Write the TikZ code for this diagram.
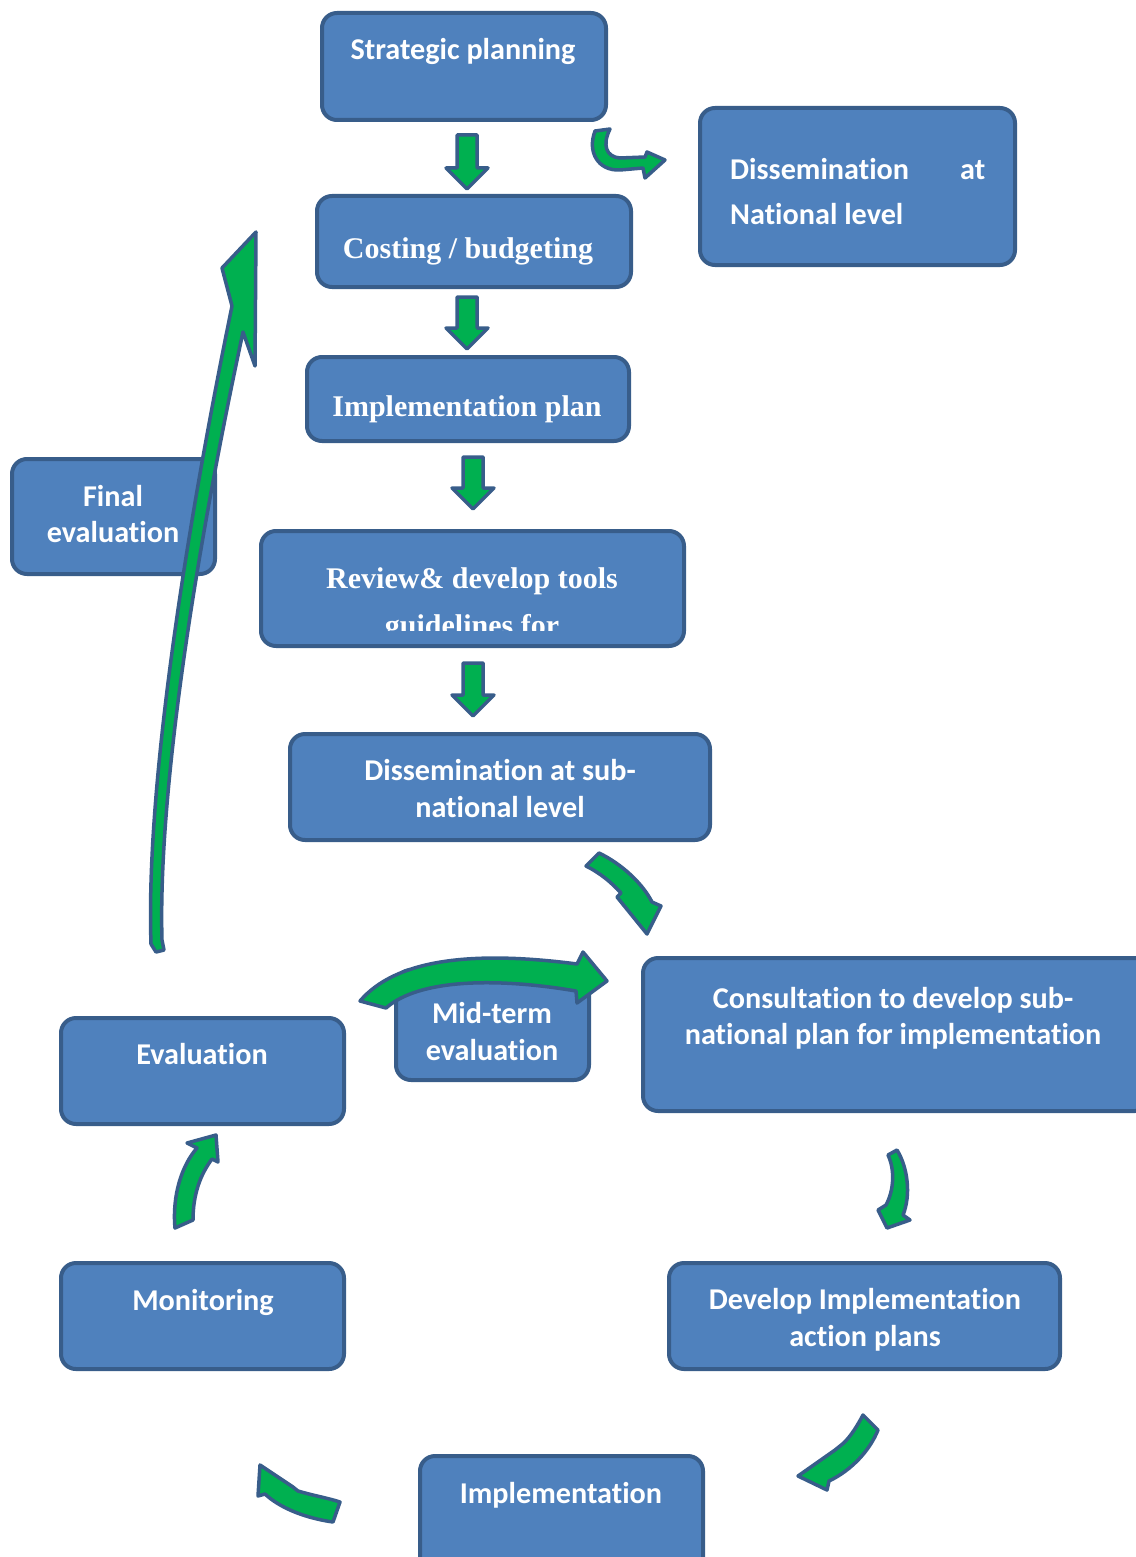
\documentclass[tikz,border=0pt]{standalone}
\usepackage{fontspec}
\setmainfont{Liberation Serif}
\newfontfamily\calibri[Ligatures=NoCommon]{Carlito}
\definecolor{boxfill}{HTML}{4F81BD}
\definecolor{boxline}{HTML}{385D8A}
\definecolor{arrowfill}{HTML}{00B050}

% straight block arrow pointing down: centre x, top y, tip y
\newcommand\dnblock[3]{%
  \draw[blockarrow] ({#1-10},#2) -- ({#1+10},#2) -- ({#1+10},{#3-21}) -- ({#1+21},{#3-21})
    -- (#1,#3) -- ({#1-21},{#3-21}) -- ({#1-10},{#3-21}) -- cycle;}

\begin{document}
\begin{tikzpicture}[x=1pt,y=-1pt,
  stage/.style={draw=boxline, fill=boxfill, line width=4pt, rounded corners=15pt, inner sep=0pt},
  lbl/.style={text=white, font=\calibri\bfseries\fontsize{30.2}{36}\selectfont, anchor=base, inner sep=0pt},
  slbl/.style={text=white, font=\bfseries\fontsize{30}{36}\selectfont, anchor=base, inner sep=0pt},
  blockarrow/.style={draw=boxline, fill=arrowfill, line width=3.5pt, line join=round}]

\useasboundingbox (0,0) rectangle (1135,1557);

% ---- stage boxes ----
\node[stage, minimum width=284pt, minimum height=107pt] (strat)   at (464,66.5)   {};
\node[stage, minimum width=315pt, minimum height=157pt] (natl)    at (857.5,186.5) {};
\node[stage, minimum width=314pt, minimum height=91pt]  (cost)    at (474,241.5)  {};
\node[stage, minimum width=322pt, minimum height=84pt]  (implan)  at (468,399)    {};
\node[stage, minimum width=423pt, minimum height=115pt] (review)  at (472.5,588.5) {};
\node[stage, minimum width=420pt, minimum height=106pt] (subnat)  at (500,787)    {};
\node[stage, minimum width=203pt, minimum height=115pt] (final)   at (113.5,516.5) {};
\node[stage, minimum width=507pt, minimum height=153pt] (consult) at (896.5,1034.5) {};
\node[stage, minimum width=193pt, minimum height=110pt] (mid)     at (492.5,1025) {};
\node[stage, minimum width=283pt, minimum height=106pt] (evalb)   at (202.5,1071) {};
\node[stage, minimum width=283pt, minimum height=106pt] (monit)   at (202.5,1316) {};
\node[stage, minimum width=391pt, minimum height=106pt] (devel)   at (864.5,1316) {};
\node[stage, minimum width=283pt, minimum height=124pt] (implb)   at (561.5,1518) {};

% ---- box texts ----
\node[lbl] (tstrat) at (463,60) {Strategic planning};
\node[lbl, anchor=base west, align=left] (tnatl) at (730,224)
  {\hbox to 255pt{Dissemination\hfill at}\\[9pt]National level};
\node[slbl] (tcost) at (468,258) {Costing / budgeting};
\node[slbl] (timpl) at (467,416) {Implementation plan};
\node[slbl] (trev1) at (472,588) {Review\& develop tools};
\begin{scope}
  \clip (261,531) rectangle (684,630);
  \node[slbl] (trev2) at (472,635) {guidelines for};
\end{scope}
\node[lbl] (tsub1) at (500,780) {Dissemination at sub-};
\node[lbl] (tsub2) at (500,817) {national level};
\node[lbl] (tfin1) at (113,506) {Final};
\node[lbl] (tfin2) at (113,542) {evaluation};
\node[lbl] (tcon1) at (893,1008) {Consultation to develop sub-};
\node[lbl] (tcon2) at (893,1044) {national plan for implementation};
\node[lbl] (tmid1) at (492,1023) {Mid-term};
\node[lbl] (tmid2) at (492,1060) {evaluation};
\node[lbl] (teval) at (202,1064) {Evaluation};
\node[lbl] (tmon)  at (203,1310) {Monitoring};
\node[lbl] (tdev1) at (865,1309) {Develop Implementation};
\node[lbl] (tdev2) at (865,1346) {action plans};
\node[lbl] (timpb) at (561,1503) {Implementation};

% ---- straight block arrows down the planning column ----
\dnblock{467}{135}{189}
\dnblock{467}{297}{349}
\dnblock{473}{457}{509}
\dnblock{473}{663}{716}

% ---- hook arrow towards national dissemination ----
\draw[blockarrow] (595,131) .. controls (587,152) and (598,171) .. (620,170) -- (643,168)
  -- (645,178) -- (665,160) -- (647,152) -- (645,157) -- (620,158)
  .. controls (606,157) and (602,145) .. (610,129) -- cycle;

% ---- long return arrow from the cycle to the top ----
\draw[blockarrow] (151,944) .. controls (146,800) and (180,560) .. (232,306)
  -- (222,268) -- (256,232) -- (255,366) -- (243,332)
  .. controls (192,570) and (158,800) .. (162,940) -- (164,950) -- (156,952) -- cycle;

% ---- mid-term arc over its box ----
\draw[blockarrow] (360,1001) .. controls (395,960) and (470,950) .. (577,964)
  -- (583,952) -- (607,981) -- (577,1003) -- (576,991)
  .. controls (500,978) and (420,978) .. (386,1008) -- cycle;

% ---- curved arrows around the implementation cycle ----
\draw[blockarrow] (586,866) -- (599,853) .. controls (622,864) and (643,884) .. (652,902)
  -- (661,906) -- (647,934) -- (617,897) -- (621,893)
  .. controls (611,882) and (600,873) .. (586,866) -- cycle;

\draw[blockarrow] (888,1155) -- (897,1150) .. controls (908,1168) and (911,1195) .. (903,1215)
  -- (910,1220) -- (887,1228) -- (878,1210) -- (886,1205)
  .. controls (894,1190) and (895,1170) .. (888,1155) -- cycle;

\draw[blockarrow] (863,1415) -- (878,1430) .. controls (870,1450) and (852,1470) .. (829,1481)
  -- (827,1490) -- (798,1476) -- (835,1450) -- (840,1446)
  .. controls (848,1440) and (855,1430) .. (863,1415) -- cycle;

\draw[blockarrow] (260,1465) -- (293,1487) -- (298,1491)
  .. controls (315,1496) and (328,1498) .. (340,1502) -- (333,1522)
  .. controls (305,1518) and (280,1508) .. (265,1494) -- (258,1496) -- cycle;

\draw[blockarrow] (175,1228) .. controls (172,1195) and (182,1165) .. (197,1148)
  -- (187,1143) -- (216,1135) -- (218,1162) -- (212,1159)
  .. controls (200,1175) and (193,1195) .. (193,1220) -- cycle;

\end{tikzpicture}
\end{document}
